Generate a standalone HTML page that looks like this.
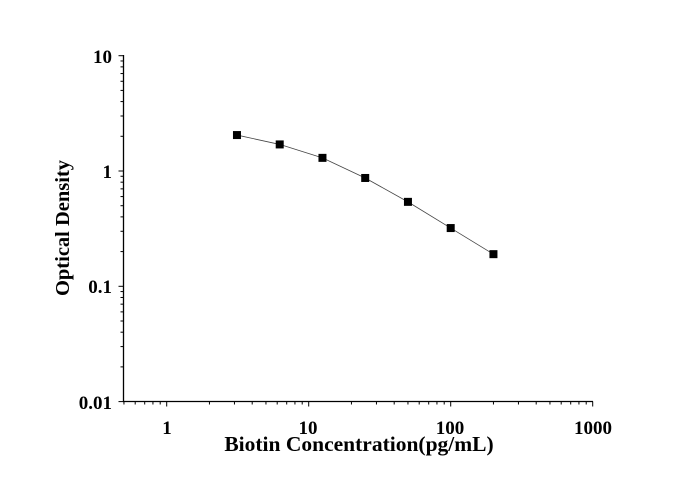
<!DOCTYPE html>
<html><head><style>
body{margin:0;background:#fff}
svg text{font-family:"Liberation Serif",serif;font-weight:bold;fill:#000}
</style></head><body>
<svg width="689" height="481" xmlns="http://www.w3.org/2000/svg">
<g stroke="#000" stroke-width="1.3" fill="none">
<line x1="123.5" y1="55" x2="123.5" y2="402"/>
<line x1="123" y1="401.5" x2="593" y2="401.5"/>
</g>
<g id="ticks" stroke="#000" stroke-width="1"></g>
<g font-size="19" text-anchor="end">
<text x="112" y="63">10</text>
<text x="112" y="178">1</text>
<text x="112" y="293">0.1</text>
<text x="112" y="409">0.01</text>
</g>
<g font-size="19" text-anchor="middle">
<text x="167" y="434">1</text>
<text x="308" y="434">10</text>
<text x="450" y="434">100</text>
<text x="593" y="434">1000</text>
</g>
<text x="359" y="451" font-size="21.5" text-anchor="middle">Biotin Concentration(pg/mL)</text>
<text transform="translate(69,228) rotate(-90)" font-size="20.5" text-anchor="middle">Optical Density</text>
<polyline id="ln" fill="none" stroke="#444" stroke-width="0.8"/>
<g id="pts"></g>
</svg>
<script>
var X=v=>166.7+Math.log10(v)*142, Y=v=>171-Math.log10(v)*115.3;
var t=document.getElementById('ticks'),s='';
for(var d=-1;d<3;d++)for(var k=1;k<10;k++){var v=k*Math.pow(10,d);if(v<0.5)continue;var x=X(v),L=k==1?5:3;s+='<line x1="'+x+'" x2="'+x+'" y1="401.5" y2="'+(401.5+L)+'"/>';}
s+='<line x1="'+X(1000)+'" x2="'+X(1000)+'" y1="401.5" y2="406.5"/>';
for(var d=-2;d<1;d++)for(var k=1;k<10;k++){var y=Y(k*Math.pow(10,d)),L=k==1?5:3;s+='<line x1="123.5" x2="'+(123.5-L)+'" y1="'+y+'" y2="'+y+'"/>';}
s+='<line x1="123.5" x2="118.5" y1="'+Y(10)+'" y2="'+Y(10)+'"/>';
t.innerHTML=s;
var xs=[3.125,6.25,12.5,25,50,100,200],ys=[2.05,1.7,1.3,0.87,0.54,0.32,0.19],p='',q='';
xs.forEach((x,i)=>{p+=X(x)+','+Y(ys[i])+' ';q+='<rect x="'+(X(x)-4)+'" y="'+(Y(ys[i])-4)+'" width="8" height="8" fill="#000"/>';});
document.getElementById('ln').setAttribute('points',p);
document.getElementById('pts').innerHTML=q;
</script>
</body></html>
